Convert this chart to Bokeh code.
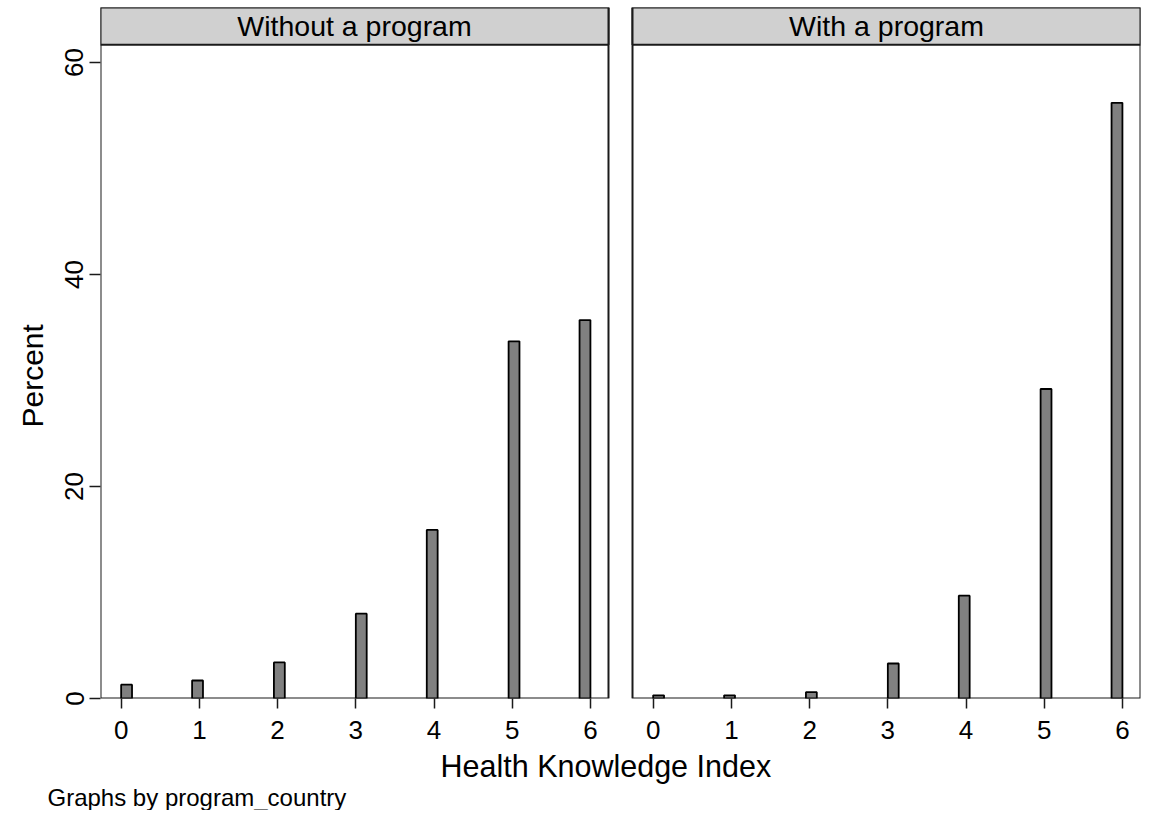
from bokeh.plotting import figure
from bokeh.models import (Range1d, FixedTicker, CustomJSTickFormatter,
                          BoxAnnotation, Label, Title)
from bokeh.embed import file_html
from bokeh.resources import INLINE

# ---------------- data ----------------
categories = [0, 1, 2, 3, 4, 5, 6]                      # Health Knowledge Index
bin_left = [0.0, 0.907, 1.953, 3.0, 3.907, 4.953, 5.86]  # histogram bin starts
bin_width = 0.139
without_program = [1.3, 1.7, 3.4, 8.0, 15.9, 33.7, 35.7]
with_program = [0.3, 0.3, 0.6, 3.3, 9.7, 29.2, 56.2]
y_ticks = [0, 20, 40, 60]
panel_titles = ["Without a program", "With a program"]
x_title = "Health Knowledge Index"
y_title = "Percent"
note = "Graphs by program_country"

# ---------------- layout constants ----------------
FONT = "Liberation Sans"
x_lo, x_hi = -0.264, 6.23           # per-panel x extent
gap = 0.307                          # gap between panels (x units)
off = (x_hi - x_lo) + gap            # shift of right panel
y_strip_lo, y_top = 61.67, 65.19     # header strip in y units

p = figure(width=1141, height=810, output_backend="svg", toolbar_location=None,
           x_range=Range1d(x_lo, x_hi + off), y_range=Range1d(0, y_top),
           min_border_left=100, min_border_right=1, min_border_top=7,
           min_border_bottom=112)
p.extra_x_ranges = {"right": Range1d(x_lo - off, x_hi)}
p.outline_line_color = None
p.xgrid.visible = False
p.ygrid.visible = False
p.background_fill_color = "white"
p.border_fill_color = "white"

LINE = "#1a1a1a"

# panels (frame + header strip)
for name, title in zip(["default", "right"], panel_titles):
    p.add_layout(BoxAnnotation(left=x_lo, right=x_hi, bottom=0, top=y_top,
                               x_range_name=name, fill_color=None, fill_alpha=0,
                               line_color=LINE, line_alpha=1, line_width=2,
                               level="underlay"))
    p.add_layout(BoxAnnotation(left=x_lo, right=x_hi, bottom=y_strip_lo, top=y_top,
                               x_range_name=name, fill_color="#d0d0d0", fill_alpha=1,
                               line_color=LINE, line_alpha=1, line_width=2,
                               level="underlay"))
    p.add_layout(Label(x=(x_lo + x_hi) / 2, y=(y_strip_lo + y_top) / 2, text=title,
                       x_range_name=name, text_align="center", text_baseline="middle",
                       text_font=FONT, text_font_size="28.5px", text_color="black"))

# bars
bar_right = [b + bin_width for b in bin_left]
p.quad(left=bin_left, right=bar_right, bottom=0, top=without_program,
       fill_color="#808080", line_color="black", line_width=1.8)
p.quad(left=bin_left, right=bar_right, bottom=0, top=with_program,
       x_range_name="right",
       fill_color="#808080", line_color="black", line_width=1.8)

# x axis
xa = p.xaxis[0]
xa.ticker = FixedTicker(ticks=[c for c in categories] + [c + off for c in categories])
xa.formatter = CustomJSTickFormatter(args=dict(off=off),
    code="const v = tick > 6.4 ? tick - off : tick; return Math.round(v).toString();")
xa.axis_line_color = None
xa.major_tick_out = 10
xa.major_tick_in = 0
xa.minor_tick_line_color = None
xa.major_tick_line_color = LINE
xa.major_tick_line_width = 1.5
xa.major_label_text_font = FONT
xa.major_label_text_font_size = "26px"
xa.major_label_text_color = "black"
xa.major_label_standoff = 12

# y axis
ya = p.yaxis[0]
ya.ticker = FixedTicker(ticks=y_ticks)
ya.axis_line_color = None
ya.major_tick_out = 11
ya.major_tick_in = 0
ya.minor_tick_line_color = None
ya.major_tick_line_color = LINE
ya.major_tick_line_width = 1.5
ya.major_label_orientation = "vertical"
ya.major_label_text_font = FONT
ya.major_label_text_font_size = "26px"
ya.major_label_text_color = "black"
ya.major_label_standoff = 6

# titles / note
p.add_layout(Title(text=y_title, align="left", offset=271,
                   text_font=FONT, text_font_size="30px", text_color="black",
                   text_font_style="normal", standoff=27), "left")
p.add_layout(Title(text=x_title, align="left", offset=340,
                   text_font=FONT, text_font_size="30.5px", text_color="black",
                   text_font_style="normal", standoff=11), "below")
p.add_layout(Title(text=note, align="left", offset=-53,
                   text_font=FONT, text_font_size="24px", text_color="black",
                   text_font_style="normal", standoff=-13), "below")

open("out.html", "w").write(file_html(p, INLINE))
